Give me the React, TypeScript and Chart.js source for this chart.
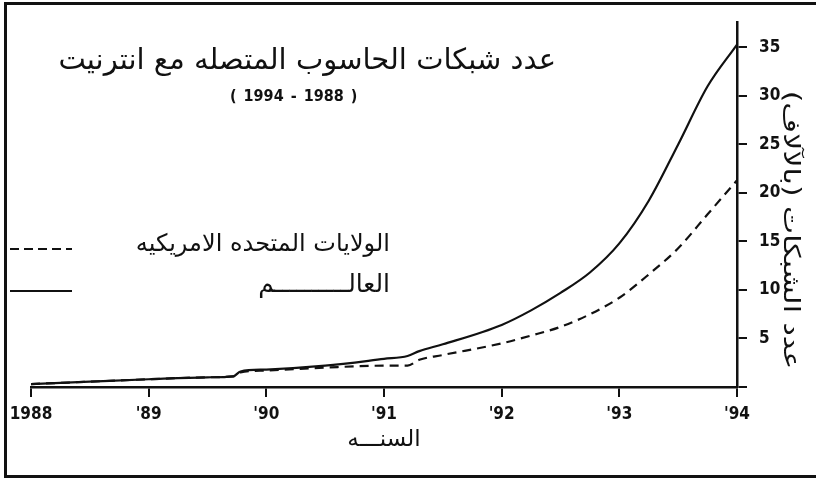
import React, { useEffect, useRef } from "react";
import { Chart, registerables } from "chart.js";

Chart.register(...registerables);

// ---- data ----
const years = [1988, 1988.5, 1989, 1989.5, 1989.72, 1989.78, 1990, 1990.5, 1991, 1991.2, 1991.3, 1991.5, 1992, 1992.25, 1992.5, 1992.75, 1993, 1993.25, 1993.5, 1993.75, 1994];
const worldValues = [0.3, 0.55, 0.8, 1.0, 1.1, 1.6, 1.8, 2.2, 2.9, 3.2, 3.7, 4.4, 6.4, 7.9, 9.7, 11.8, 14.8, 19.2, 25.0, 31.0, 35.3];
const usValues = [0.3, 0.55, 0.8, 1.0, 1.1, 1.5, 1.7, 2.0, 2.2, 2.2, 2.8, 3.3, 4.5, 5.3, 6.2, 7.5, 9.2, 11.6, 14.3, 17.8, 21.3];
const seriesNames = ["الولايات المتحده الامريكيه", "العالــــــــــم"];
const xTickLabels = ["1988", "'89", "'90", "'91", "'92", "'93", "'94"];
const titleText = "عدد شبكات الحاسوب المتصله مع انترنيت";
const subtitleText = "( 1994 - 1988 )";
const xTitleText = "السنـــه";
const yTitleText = "عدد الشبكات (بالآلاف)";

const INK = "#111";
const tickFamily = "'DejaVu Sans Condensed', 'DejaVu Sans', sans-serif";
const arabicFamily = "'DejaVu Sans', sans-serif";

export default function App() {
  const ref = useRef<HTMLCanvasElement>(null);

  useEffect(() => {
    const chart = new Chart(ref.current as HTMLCanvasElement, {
      type: "line",
      data: {
        datasets: [
          {
            label: seriesNames[0],
            data: years.map((x, i) => ({ x, y: usValues[i] })),
            borderColor: INK,
            borderWidth: 2.2,
            borderDash: [9, 6],
            pointRadius: 0,
            cubicInterpolationMode: "monotone",
            fill: false,
          },
          {
            label: seriesNames[1],
            data: years.map((x, i) => ({ x, y: worldValues[i] })),
            borderColor: INK,
            borderWidth: 2.2,
            pointRadius: 0,
            cubicInterpolationMode: "monotone",
            fill: false,
          },
        ],
      },
      options: {
        responsive: false,
        animation: false,
        devicePixelRatio: 1,
        layout: { padding: { left: 31, top: 17, right: 0, bottom: 0 } },
        plugins: {
          legend: { display: false },
          tooltip: { enabled: false },
          title: { display: false },
        },
        scales: {
          x: {
            type: "linear",
            position: "bottom",
            min: 1988,
            max: 1994,
            afterFit: (s: any) => {
              s.height = 95;
            },
            grid: { drawOnChartArea: false, drawTicks: true, tickLength: 10, color: INK, lineWidth: 2 },
            border: { display: true, color: INK, width: 2.5 },
            ticks: {
              stepSize: 1,
              padding: 7,
              color: INK,
              autoSkip: false,
              maxRotation: 0,
              font: { family: tickFamily, size: 17, weight: "bold" },
              callback: (v: any) => xTickLabels[Math.round(Number(v) - 1988)] ?? "",
            },
            title: {
              display: true,
              text: xTitleText,
              color: INK,
              font: { family: arabicFamily, size: 23 },
              padding: { top: 0, bottom: 28 },
            },
          },
          y: {
            type: "linear",
            position: "right",
            min: 0,
            max: 37.6,
            afterFit: (s: any) => {
              s.width = 79;
            },
            grid: { drawOnChartArea: false, drawTicks: true, tickLength: 10, color: INK, lineWidth: 2 },
            border: { display: true, color: INK, width: 2.5 },
            ticks: {
              stepSize: 5,
              includeBounds: false,
              padding: 12,
              color: INK,
              font: { family: tickFamily, size: 17, weight: "bold" },
              callback: (v: any) => (Number(v) === 0 ? "" : String(v)),
            },
          },
        },
      },
    } as any);
    return () => chart.destroy();
  }, []);

  const dashBg = `repeating-linear-gradient(to right, ${INK} 0px, ${INK} 9px, transparent 9px, transparent 14px)`;

  return (
    <div
      style={{
        position: "fixed",
        left: 0,
        top: 0,
        width: 816,
        height: 482,
        overflow: "hidden",
        background: "#fff",
      }}
    >
      <canvas ref={ref} width={816} height={482} style={{ position: "absolute", left: 0, top: 0, display: "block" }} />
      {/* frame */}
      <div
        style={{
          position: "absolute",
          left: 4,
          top: 2,
          width: 840,
          height: 470,
          borderTop: `3px solid ${INK}`,
          borderLeft: `3px solid ${INK}`,
          borderBottom: `3px solid ${INK}`,
          pointerEvents: "none",
        }}
      />
      {/* title */}
      <div
        dir="rtl"
        style={{
          position: "absolute",
          right: 816 - 556,
          top: 42,
          fontFamily: arabicFamily,
          fontSize: 29,
          lineHeight: "34px",
          color: INK,
          whiteSpace: "nowrap",
        }}
      >
        {titleText}
      </div>
      <div
        style={{
          position: "absolute",
          left: 230,
          top: 86,
          fontFamily: tickFamily,
          fontWeight: "bold",
          fontSize: 16,
          lineHeight: "20px",
          color: INK,
          whiteSpace: "pre",
          wordSpacing: 2,
        }}
      >
        {subtitleText}
      </div>
      {/* legend */}
      <div style={{ position: "absolute", left: 10, top: 248, width: 62, height: 2, background: dashBg }} />
      <div
        dir="rtl"
        style={{
          position: "absolute",
          right: 816 - 390,
          top: 228,
          fontFamily: arabicFamily,
          fontSize: 24,
          lineHeight: "30px",
          color: INK,
          whiteSpace: "nowrap",
        }}
      >
        {seriesNames[0]}
      </div>
      <div style={{ position: "absolute", left: 10, top: 290, width: 62, height: 2, background: INK }} />
      <div
        dir="rtl"
        style={{
          position: "absolute",
          right: 816 - 390,
          top: 269,
          fontFamily: arabicFamily,
          fontSize: 25,
          lineHeight: "30px",
          color: INK,
          whiteSpace: "nowrap",
        }}
      >
        {seriesNames[1]}
      </div>
      {/* right axis title (rotated) */}
      <div
        dir="rtl"
        style={{
          position: "absolute",
          left: 792,
          top: 230,
          transform: "translate(-50%, -50%) rotate(90deg) scaleX(1.3)",
          fontFamily: arabicFamily,
          fontSize: 23,
          lineHeight: "26px",
          color: INK,
          whiteSpace: "nowrap",
        }}
      >
        {yTitleText}
      </div>
    </div>
  );
}
